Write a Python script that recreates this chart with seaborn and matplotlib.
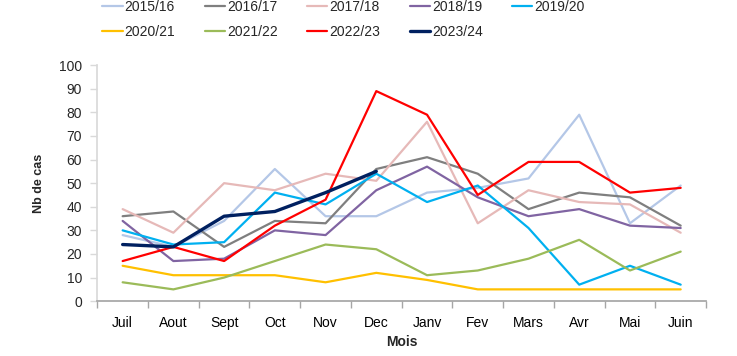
import numpy as np
import pandas as pd
import matplotlib
matplotlib.use("Agg")
import matplotlib.pyplot as plt
import seaborn as sns

# données
mois = ['Juil', 'Aout', 'Sept', 'Oct', 'Nov', 'Dec', 'Janv', 'Fev', 'Mars', 'Avr', 'Mai', 'Juin']

s2015_16 = [28, 23, 34, 56, 36, 36, 46, 48, 52, 79, 33, 49]
s2016_17 = [36, 38, 23, 34, 33, 56, 61, 54, 39, 46, 44, 32]
s2017_18 = [39, 29, 50, 47, 54, 51, 76, 33, 47, 42, 41, 29]
s2018_19 = [34, 17, 18, 30, 28, 47, 57, 44, 36, 39, 32, 31]
s2019_20 = [30, 24, 25, 46, 41, 54, 42, 49, 31, 7, 15, 7]
s2020_21 = [15, 11, 11, 11, 8, 12, 9, 5, 5, 5, 5, 5]
s2021_22 = [8, 5, 10, 17, 24, 22, 11, 13, 18, 26, 13, 21]
s2022_23 = [17, 23, 17, 32, 43, 89, 79, 45, 59, 59, 46, 48]
s2023_24 = [24, 23, 36, 38, 46, 55, np.nan, np.nan, np.nan, np.nan, np.nan, np.nan]

saisons = ['2015/16', '2016/17', '2017/18', '2018/19', '2019/20',
           '2020/21', '2021/22', '2022/23', '2023/24']
series = [s2015_16, s2016_17, s2017_18, s2018_19, s2019_20,
          s2020_21, s2021_22, s2022_23, s2023_24]
couleurs = ['#B4C7E7', '#7F7F7F', '#E6B9B8', '#8064A2', '#00B0F0',
            '#FFC000', '#9BBB59', '#FF0000', '#002060']

sns.set_theme(style='white')
plt.rcParams['font.family'] = ['Liberation Sans', 'DejaVu Sans']

fig = plt.figure(figsize=(7.37, 3.56), dpi=100)
ax = fig.add_axes([0.132, 0.154, 0.826, 0.663])

idx = np.arange(len(mois))
for nom, vals, c in zip(saisons, series, couleurs):
    df = pd.DataFrame({'idx': idx, 'val': vals}).dropna()
    lw = 2.4 if nom == '2023/24' else 1.6
    sns.lineplot(data=df, x='idx', y='val', color=c, linewidth=lw, label=nom, ax=ax)

ax.set_xlim(-0.5, len(mois) - 0.5)
ax.set_ylim(0, 100)
ax.set_yticks(range(0, 101, 10))
ax.set_xticks(idx)
ax.set_xticklabels(mois)
ax.set_xticks(np.arange(-0.5, len(mois)), minor=True)
ax.tick_params(axis='x', which='major', length=0, labelsize=10, pad=11, colors='#000000')
ax.tick_params(axis='x', which='minor', length=5, width=1, color='#A6A6A6', direction='out', bottom=True)
ax.tick_params(axis='y', length=5, width=1, color='#D9D9D9', direction='out', left=True, labelsize=10, pad=6)

for s in ['top', 'right']:
    ax.spines[s].set_visible(False)
ax.spines['bottom'].set_color('#A6A6A6')
ax.spines['left'].set_color('#D9D9D9')

ax.set_xlabel('Mois', fontsize=10, fontweight='bold', labelpad=3)
ax.set_ylabel('Nb de cas', fontsize=9, fontweight='bold', labelpad=10)

# légende en lignes : 5 sur la première, 4 sur la seconde
ax.get_legend().remove()
h, l = ax.get_legend_handles_labels()
ordre = [0, 5, 1, 6, 2, 7, 3, 8, 4]
fig.legend([h[i] for i in ordre], [l[i] for i in ordre], ncol=5, loc='upper left',
           bbox_to_anchor=(0.122, 1.035), frameon=False, fontsize=10,
           handlelength=1.45, handletextpad=0.15, columnspacing=2.12, labelspacing=0.8)

fig.savefig('out.png', dpi=100)
